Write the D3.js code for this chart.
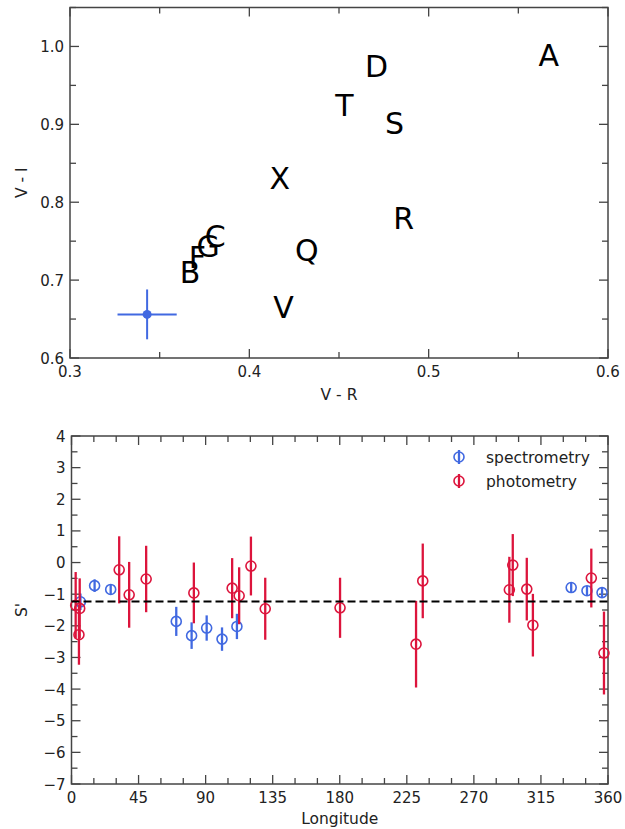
<!DOCTYPE html>
<html>
<head>
<meta charset="utf-8">
<script src="https://cdn.jsdelivr.net/npm/d3@7"></script>
<style>
  body { margin: 0; background: #fff; }
  svg { display: block; font-family: "DejaVu Sans", sans-serif; }
</style>
</head>
<body>
<div id="chart"></div>
<script>
// --- top panel: colour-colour diagram ---
const letterNames = ["A", "D", "T", "S", "X", "R", "Q", "V", "C", "G", "F", "B"];
const letterVR = [0.567, 0.471, 0.453, 0.481, 0.417, 0.486, 0.432, 0.419, 0.381, 0.377, 0.371, 0.367];
const letterVI = [0.989, 0.974, 0.924, 0.902, 0.831, 0.780, 0.739, 0.665, 0.757, 0.743, 0.730, 0.710];
const targetVR = [0.343];
const targetVI = [0.656];
const targetVRErr = [0.0165];
const targetVIErr = [0.032];
const topXTicks = [0.3, 0.4, 0.5, 0.6];
const topYTicks = [0.6, 0.7, 0.8, 0.9, 1.0];

// --- bottom panel: S' vs longitude ---
const specLon = [6.0, 15.5, 26.3, 70.3, 80.6, 90.7, 101.0, 111.0, 335.3, 345.9, 356.0];
const specS = [-1.24, -0.73, -0.85, -1.86, -2.31, -2.07, -2.42, -2.02, -0.79, -0.89, -0.95];
const specErr = [0.26, 0.2, 0.15, 0.46, 0.42, 0.4, 0.37, 0.4, 0.15, 0.15, 0.15];
const photLon = [2.8, 5.5, 5.0, 32.0, 38.7, 50.1, 82.1, 107.8, 112.5, 120.4, 130.0, 180.2, 231.2, 235.7, 293.8, 296.1, 305.5, 309.6, 348.8, 357.3];
const photS = [-1.35, -1.45, -2.28, -0.23, -1.02, -0.52, -0.96, -0.81, -1.05, -0.11, -1.46, -1.43, -2.58, -0.58, -0.86, -0.08, -0.84, -1.98, -0.49, -2.86];
const photErr = [1.05, 0.95, 0.95, 1.06, 1.04, 1.05, 0.96, 0.95, 0.9, 0.93, 0.98, 0.95, 1.37, 1.18, 1.04, 0.98, 0.99, 0.99, 0.93, 1.31];
const meanS = -1.23;
const lonTicks = [0, 45, 90, 135, 180, 225, 270, 315, 360];
const sTicks = [-7, -6, -5, -4, -3, -2, -1, 0, 1, 2, 3, 4];
const seriesNames = ["spectrometry", "photometry"];

const BLUE = "#4169e1";
const RED = "#dc143c";
const SPINE = "#444";
const TEXT = "#222";

const svg = d3.select("#chart").append("svg")
    .attr("width", 625)
    .attr("height", 829);

// draws frame, inward ticks on all four sides and the tick labels
function drawFrame(g, x, y, xMajor, yMajor, xMinorStep, yMinorStep, fmtX, fmtY) {
    const [x0, x1] = x.range();
    const [y0, y1] = y.range(); // y0 bottom, y1 top
    const xd = x.domain(), yd = y.domain();

    const xMinor = d3.range(xd[0], xd[1] + xMinorStep / 2, xMinorStep);
    const yMinor = d3.range(Math.ceil(yd[0] / yMinorStep - 1e-9) * yMinorStep, yd[1] + 1e-9, yMinorStep);
    const isMajor = (v, list) => list.some(m => Math.abs(m - v) < 1e-6);

    const ticks = g.append("g").attr("stroke", SPINE).attr("stroke-width", 1.3);
    xMinor.forEach(v => {
        const len = isMajor(v, xMajor) ? 9 : 6;
        const px = x(v);
        ticks.append("line").attr("x1", px).attr("x2", px).attr("y1", y0).attr("y2", y0 - len);
        ticks.append("line").attr("x1", px).attr("x2", px).attr("y1", y1).attr("y2", y1 + len);
    });
    yMinor.forEach(v => {
        const len = isMajor(v, yMajor) ? 9 : 6;
        const py = y(v);
        ticks.append("line").attr("y1", py).attr("y2", py).attr("x1", x0).attr("x2", x0 + len);
        ticks.append("line").attr("y1", py).attr("y2", py).attr("x1", x1).attr("x2", x1 - len);
    });

    g.append("rect")
        .attr("x", x0).attr("y", y1)
        .attr("width", x1 - x0).attr("height", y0 - y1)
        .attr("fill", "none")
        .attr("stroke", SPINE)
        .attr("stroke-width", 1.5);

    g.append("g").selectAll("text").data(xMajor).join("text")
        .attr("x", d => x(d))
        .attr("y", y0 + 19)
        .attr("text-anchor", "middle")
        .attr("font-size", 15)
        .attr("fill", TEXT)
        .text(fmtX);

    g.append("g").selectAll("text").data(yMajor).join("text")
        .attr("x", x0 - 6)
        .attr("y", d => y(d) + 5.5)
        .attr("text-anchor", "end")
        .attr("font-size", 15)
        .attr("fill", TEXT)
        .text(fmtY);
}

// --- Top panel ---
const xTop = d3.scaleLinear().domain([0.3, 0.6]).range([70, 608]);
const yTop = d3.scaleLinear().domain([0.6, 1.05]).range([358, 7.5]);
const gTop = svg.append("g");

drawFrame(gTop, xTop, yTop, topXTicks, topYTicks, 0.05, 0.05, d3.format(".1f"), d3.format(".1f"));

gTop.append("text")
    .attr("x", (70 + 608) / 2)
    .attr("y", 400)
    .attr("text-anchor", "middle")
    .attr("font-size", 15.5)
    .attr("fill", TEXT)
    .text("V - R");

gTop.append("text")
    .attr("transform", `translate(27, ${(358 + 7.5) / 2}) rotate(-90)`)
    .attr("text-anchor", "middle")
    .attr("font-size", 15.5)
    .attr("fill", TEXT)
    .text("V - I");

gTop.append("g").selectAll("text").data(letterNames).join("text")
    .attr("x", (d, i) => xTop(letterVR[i]))
    .attr("y", (d, i) => yTop(letterVI[i]))
    .attr("dy", "0.36em")
    .attr("text-anchor", "middle")
    .attr("font-size", 30)
    .attr("fill", "#000")
    .text(d => d);

const target = gTop.append("g").attr("stroke", BLUE).attr("stroke-width", 2);
targetVR.forEach((vr, i) => {
    target.append("line")
        .attr("x1", xTop(vr - targetVRErr[i])).attr("x2", xTop(vr + targetVRErr[i]))
        .attr("y1", yTop(targetVI[i])).attr("y2", yTop(targetVI[i]));
    target.append("line")
        .attr("x1", xTop(vr)).attr("x2", xTop(vr))
        .attr("y1", yTop(targetVI[i] - targetVIErr[i])).attr("y2", yTop(targetVI[i] + targetVIErr[i]));
    target.append("circle")
        .attr("cx", xTop(vr)).attr("cy", yTop(targetVI[i]))
        .attr("r", 4.5)
        .attr("fill", BLUE)
        .attr("stroke", "none");
});

// --- Bottom panel ---
const xBot = d3.scaleLinear().domain([0, 360]).range([71.5, 608]);
const yBot = d3.scaleLinear().domain([-7, 4]).range([784, 436]);
const gBot = svg.append("g");

const fmtMinus = d => String(d).replace("-", "\u2212");
drawFrame(gBot, xBot, yBot, lonTicks, sTicks, 15, 0.5, d => d, fmtMinus);

gBot.append("text")
    .attr("x", (71.5 + 608) / 2)
    .attr("y", 824)
    .attr("text-anchor", "middle")
    .attr("font-size", 15.5)
    .attr("fill", TEXT)
    .text("Longitude");

gBot.append("text")
    .attr("transform", `translate(27, ${(784 + 436) / 2}) rotate(-90)`)
    .attr("text-anchor", "middle")
    .attr("font-size", 15.5)
    .attr("fill", TEXT)
    .text("S'");

function drawSeries(lon, s, err, color) {
    const g = gBot.append("g");
    g.selectAll("line").data(lon).join("line")
        .attr("x1", d => xBot(d)).attr("x2", d => xBot(d))
        .attr("y1", (d, i) => yBot(s[i] - err[i]))
        .attr("y2", (d, i) => yBot(s[i] + err[i]))
        .attr("stroke", color)
        .attr("stroke-width", 2.3);
    g.selectAll("circle").data(lon).join("circle")
        .attr("cx", d => xBot(d))
        .attr("cy", (d, i) => yBot(s[i]))
        .attr("r", 5)
        .attr("fill", "none")
        .attr("stroke", color)
        .attr("stroke-width", 1.6);
}

drawSeries(specLon, specS, specErr, BLUE);
drawSeries(photLon, photS, photErr, RED);

gBot.append("line")
    .attr("x1", xBot(0)).attr("x2", xBot(360))
    .attr("y1", yBot(meanS)).attr("y2", yBot(meanS))
    .attr("stroke", "#000")
    .attr("stroke-width", 2)
    .attr("stroke-dasharray", "8,4");

// legend
const legend = gBot.append("g").attr("transform", "translate(459, 457)");
[BLUE, RED].forEach((c, i) => {
    const row = legend.append("g").attr("transform", `translate(0, ${i * 24})`);
    row.append("line").attr("x1", 0).attr("x2", 0).attr("y1", -7).attr("y2", 7)
        .attr("stroke", c).attr("stroke-width", 2.3);
    row.append("circle").attr("r", 5).attr("fill", "none")
        .attr("stroke", c).attr("stroke-width", 1.6);
    row.append("text")
        .attr("x", 27)
        .attr("y", 5.5)
        .attr("font-size", 15.5)
        .attr("fill", TEXT)
        .text(seriesNames[i]);
});
</script>
</body>
</html>
